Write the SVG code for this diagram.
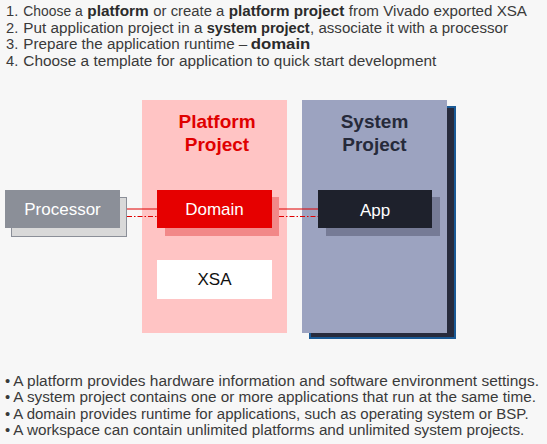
<svg xmlns="http://www.w3.org/2000/svg" width="547" height="444" viewBox="0 0 547 444">
<style>
.t{font-family:"Liberation Sans",Arial,sans-serif;font-size:14.7px;fill:#3a3a3a}
.b{font-weight:bold;fill:#2b2b2b}
.lbl{font-family:"Liberation Sans",Arial,sans-serif;font-size:17px;text-anchor:middle}
.ttl{font-family:"Liberation Sans",Arial,sans-serif;font-size:19px;font-weight:bold;text-anchor:middle}
.ln{stroke:#e00000;stroke-width:1;fill:none}
.dash{stroke-dasharray:5 2 1.5 2}
</style>
<rect width="547" height="444" fill="#f7f7f7"/>
<g id="steps">
<text class="t" x="6" y="16">1.</text>
<text class="t" x="23.3" y="16" textLength="59.4" lengthAdjust="spacingAndGlyphs">Choose a</text>
<text class="t b" x="87.3" y="16" textLength="61.4" lengthAdjust="spacingAndGlyphs">platform</text>
<text class="t" x="153.3" y="16" textLength="71" lengthAdjust="spacingAndGlyphs">or create a</text>
<text class="t b" x="228.7" y="16" textLength="115.6" lengthAdjust="spacingAndGlyphs">platform project</text>
<text class="t" x="348.7" y="16" textLength="178.3" lengthAdjust="spacingAndGlyphs">from Vivado exported XSA</text>
<text class="t" x="6" y="32.7">2.</text>
<text class="t" x="23.3" y="32.7" textLength="179.2" lengthAdjust="spacingAndGlyphs">Put application project in a</text>
<text class="t b" x="206.7" y="32.7" textLength="103" lengthAdjust="spacingAndGlyphs">system project</text>
<text class="t" x="310" y="32.7" textLength="198" lengthAdjust="spacingAndGlyphs">, associate it with a processor</text>
<text class="t" x="6" y="49">3.</text>
<text class="t" x="23.3" y="49" textLength="224" lengthAdjust="spacingAndGlyphs">Prepare the application runtime –</text>
<text class="t b" x="250.7" y="49" textLength="59.6" lengthAdjust="spacingAndGlyphs">domain</text>
<text class="t" x="6" y="65.7">4.</text>
<text class="t" x="23.3" y="65.7" textLength="413" lengthAdjust="spacingAndGlyphs">Choose a template for application to quick start development</text>
</g>
<g id="platform-project">
<rect x="142" y="100" width="145" height="233" fill="#ffc4c4"/>
<text class="ttl" x="217" y="128" fill="#e00000">Platform</text>
<text class="ttl" x="217" y="151" fill="#e00000">Project</text>
</g>
<g id="system-project">
<rect x="310" y="107" width="145" height="231" fill="#272b3d" stroke="#1a5a96" stroke-width="2"/>
<rect x="302" y="100" width="145" height="233" fill="#9ca3c0"/>
<text class="ttl" x="374.5" y="128" fill="#262a3a">System</text>
<text class="ttl" x="374.5" y="151" fill="#262a3a">Project</text>
</g>
<g id="connectors">
<line class="ln" x1="120" y1="209" x2="157" y2="209"/>
<line class="ln" x1="272" y1="209" x2="318" y2="209"/>
<line class="ln dash" x1="127" y1="216.5" x2="157" y2="216.5"/>
<line class="ln dash" x1="279" y1="216.5" x2="318" y2="216.5"/>
</g>
<g id="processor">
<rect x="11.5" y="197.5" width="115" height="39" fill="#d9d9d9" stroke="#8b8f98" stroke-width="1"/>
<rect x="5" y="190" width="115" height="38" fill="#8b8f98"/>
<text class="lbl" x="62.5" y="214.5" fill="#ffffff">Processor</text>
</g>
<g id="domain">
<rect x="165" y="197" width="114" height="39" fill="#f28888"/>
<rect x="157" y="190" width="115" height="38" fill="#e60000"/>
<text class="lbl" x="214.5" y="214.5" fill="#ffffff">Domain</text>
</g>
<g id="xsa">
<rect x="157" y="260" width="115" height="39" fill="#ffffff"/>
<text class="lbl" x="214.5" y="284.5" fill="#111111">XSA</text>
</g>
<g id="app">
<rect x="326" y="197" width="114" height="39" fill="#767b96"/>
<rect x="318" y="190" width="114" height="38" fill="#1e212c"/>
<text class="lbl" x="375" y="215.5" fill="#ffffff">App</text>
</g>
<g id="notes">
<text class="t" x="5" y="385.5">•</text>
<text class="t" x="13.3" y="385.5" textLength="525.7" lengthAdjust="spacingAndGlyphs">A platform provides hardware information and software environment settings.</text>
<text class="t" x="5" y="402">•</text>
<text class="t" x="13.3" y="402" textLength="522.7" lengthAdjust="spacingAndGlyphs">A system project contains one or more applications that run at the same time.</text>
<text class="t" x="5" y="418.5">•</text>
<text class="t" x="13.3" y="418.5" textLength="515.3" lengthAdjust="spacingAndGlyphs">A domain provides runtime for applications, such as operating system or BSP.</text>
<text class="t" x="5" y="435">•</text>
<text class="t" x="13.3" y="435" textLength="511" lengthAdjust="spacingAndGlyphs">A workspace can contain unlimited platforms and unlimited system projects.</text>
</g>
</svg>
